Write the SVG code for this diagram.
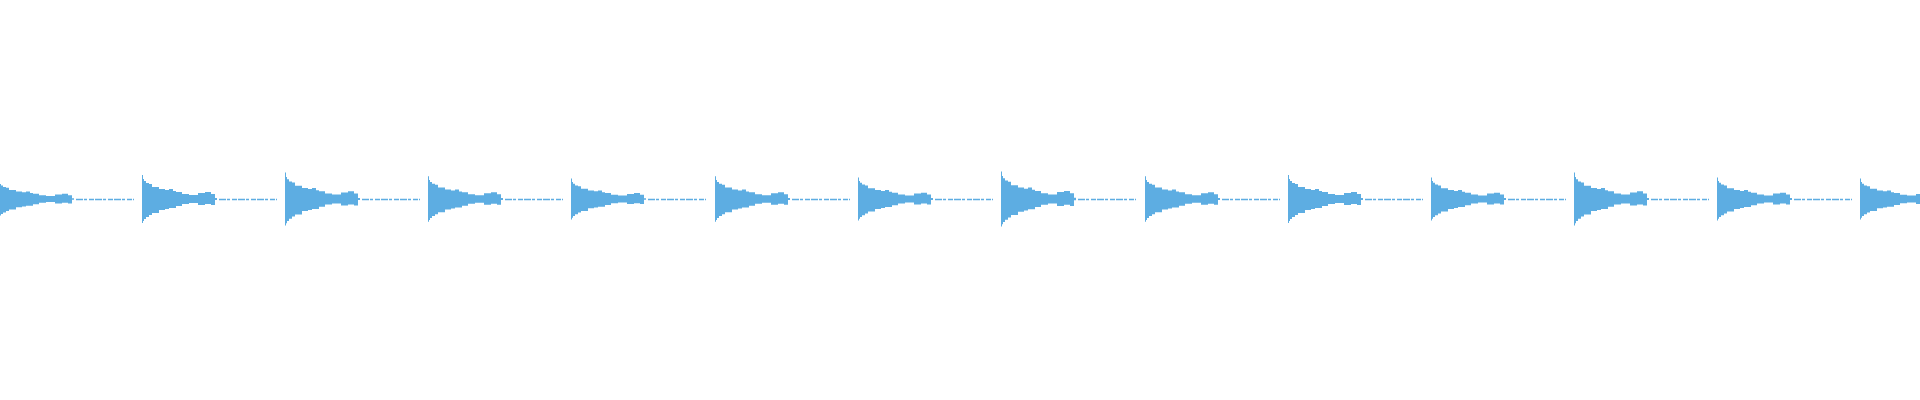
<svg xmlns="http://www.w3.org/2000/svg" width="1920" height="400" viewBox="0 0 1920 400">
<style>.b{fill:#5DADE2}.t{stroke:#5DADE2;stroke-width:1.4;stroke-dasharray:7 1 3 2 5 1}</style>
<defs>
<path id="burst" d="M0,-24 L1,-24 L1,-20 L2,-20 L2,-18 L4,-18 L4,-16 L7,-16 L7,-15 L10,-15 L10,-12 L17,-12 L17,-10 L23,-10 L23,-9 L27,-9 L27,-10 L31,-10 L31,-8 L34,-8 L34,-7 L40,-7 L40,-5 L47,-5 L47,-4 L56,-4 L56,-6 L63,-6 L63,-7 L69,-7 L69,-5 L73,-5 L73,-1 L75,-1 L75,1 L73,1 L73,6 L69,6 L69,5 L63,5 L63,6 L56,6 L56,4 L47,4 L47,5 L40,5 L40,7 L34,7 L34,9 L27,9 L27,10 L23,10 L23,11 L17,11 L17,14 L10,14 L10,16 L7,16 L7,18 L4,18 L4,20 L2,20 L2,22 L1,22 L1,24 L0,24 Z"/>
<line id="tail" class="t" x1="77" y1="0.5" x2="135" y2="0.5"/>
</defs>
<g id="waveform" transform="translate(0,199)">
<g transform="translate(-1,0) scale(1,0.75)"><use href="#burst" class="b"/></g><use href="#tail" x="-1"/>
<use href="#burst" class="b" x="142"/><use href="#tail" x="142"/>
<g transform="translate(285,0) scale(1,1.1)"><use href="#burst" class="b"/></g><use href="#tail" x="285"/>
<g transform="translate(428,0) scale(1,0.95)"><use href="#burst" class="b"/></g><use href="#tail" x="428"/>
<g transform="translate(571,0) scale(1,0.85)"><use href="#burst" class="b"/></g><use href="#tail" x="571"/>
<g transform="translate(715,0) scale(1,0.95)"><use href="#burst" class="b"/></g><use href="#tail" x="715"/>
<g transform="translate(858,0) scale(1,0.9)"><use href="#burst" class="b"/></g><use href="#tail" x="858"/>
<g transform="translate(1001,0) scale(1,1.15)"><use href="#burst" class="b"/></g><use href="#tail" x="1001"/>
<g transform="translate(1145,0) scale(1,0.95)"><use href="#burst" class="b"/></g><use href="#tail" x="1145"/>
<g transform="translate(1288,0) scale(1,1)"><use href="#burst" class="b"/></g><use href="#tail" x="1288"/>
<g transform="translate(1431,0) scale(1,0.9)"><use href="#burst" class="b"/></g><use href="#tail" x="1431"/>
<g transform="translate(1574,0) scale(1,1.1)"><use href="#burst" class="b"/></g><use href="#tail" x="1574"/>
<g transform="translate(1717,0) scale(1,0.9)"><use href="#burst" class="b"/></g><use href="#tail" x="1717"/>
<g transform="translate(1860,0) scale(1,0.85)"><use href="#burst" class="b"/></g>
</g>
</svg>
